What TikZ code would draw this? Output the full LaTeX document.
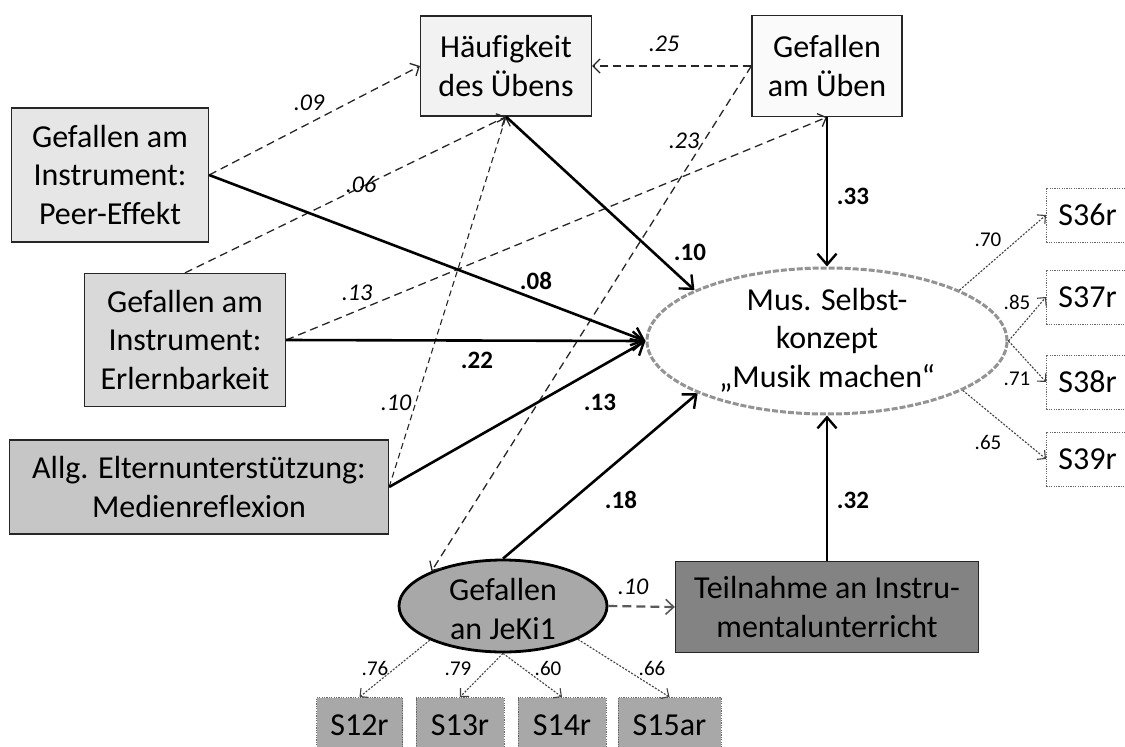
\documentclass[tikz,border=0pt]{standalone}
\usepackage{fontspec}
\setmainfont{Carlito}[Ligatures=NoCommon]
\usetikzlibrary{arrows.meta,shapes.geometric}
\definecolor{cHauf}{HTML}{F2F2F2}
\definecolor{cGub}{HTML}{FAFAFA}
\definecolor{cPeer}{HTML}{E6E6E6}
\definecolor{cErl}{HTML}{D9D9D9}
\definecolor{cElt}{HTML}{C6C6C6}
\definecolor{cJek}{HTML}{A8A8A8}
\definecolor{cTeil}{HTML}{838383}
\begin{document}
\begin{tikzpicture}[x=1pt,y=-1pt,
  box/.style={draw=black!85, line width=1.3pt, rectangle, inner sep=0pt, align=center, font=\fontsize{32}{38.5}\selectfont},
  indbox/.style={draw=black!60, line width=0.9pt, dash pattern=on 1.2pt off 1.2pt, rectangle, inner sep=0pt, font=\fontsize{32}{38.5}\selectfont},
  txt/.style={inner sep=0pt, align=center, font=\fontsize{32}{38.5}\selectfont},
  sarr/.style={black, line width=2.6pt, -{Straight Barb[length=11pt,width=19pt,line width=2.4pt]}},
  darr/.style={black!85, line width=1.3pt, dash pattern=on 8pt off 5pt, -{Straight Barb[length=7pt,width=14pt,line width=1.3pt]}},
  iarr/.style={black!75, line width=1.1pt, dash pattern=on 2pt off 1.5pt, -{Straight Barb[length=6pt,width=12pt,line width=1.1pt]}},
  blab/.style={font=\fontsize{25}{28}\selectfont\bfseries, inner sep=0pt},
  ilab/.style={font=\fontsize{24}{27}\selectfont\itshape, inner sep=0pt},
  slab/.style={font=\fontsize{21}{24}\selectfont, inner sep=0pt},
]
\useasboundingbox (0,0) rectangle (1125,747);

% boxes
\node[box, fill=cHauf, minimum width=171pt, minimum height=100pt] (hauf) at (506,66) {Häufigkeit\\des Übens};
\node[box, fill=cGub, minimum width=150pt, minimum height=101pt] (gub) at (827,66) {Gefallen\\am Üben};
\node[box, fill=cPeer, minimum width=197pt, minimum height=134pt] (peer) at (110,175) {Gefallen am\\Instrument:\\Peer-Effekt};
\node[box, fill=cErl, minimum width=201pt, minimum height=133pt] (erl) at (185,340) {Gefallen am\\Instrument:\\Erlernbarkeit};
\node[box, fill=cElt, minimum width=379pt, minimum height=94pt] (elt) at (199,487) {Allg. Elternunterstützung:\\Medienreflexion};
\node[box, fill=cTeil, minimum width=303pt, minimum height=91pt] (teil) at (827,607) {Teilnahme an Instru-\\mentalunterricht};

% latent variables
\node[ellipse, draw=gray!85, line width=3pt, dash pattern=on 6pt off 2pt, fill=white, minimum width=360pt, minimum height=146pt, inner sep=0pt] (msk) at (827,341) {};
\node[txt] (msktext) at (827,340) {Mus. Selbst-\\konzept\\„Musik machen“};
\node[ellipse, draw=black, line width=2.8pt, fill=cJek, minimum width=208pt, minimum height=92pt, inner sep=0pt] (jeki) at (503,606) {};
\node[txt] (jekitext) at (503,609) {Gefallen\\an JeKi1};

% indicators
\node[indbox, fill=white, anchor=west, minimum width=94pt, minimum height=54pt, text width=70pt, align=left, inner xsep=12pt] (s36) at (1046,215) {S36r};
\node[indbox, fill=white, anchor=west, minimum width=94pt, minimum height=54pt, text width=70pt, align=left, inner xsep=12pt] (s37) at (1046,297) {S37r};
\node[indbox, fill=white, anchor=west, minimum width=94pt, minimum height=54pt, text width=70pt, align=left, inner xsep=12pt] (s38) at (1046,382) {S38r};
\node[indbox, fill=white, anchor=west, minimum width=94pt, minimum height=54pt, text width=70pt, align=left, inner xsep=12pt] (s39) at (1046,459) {S39r};

\node[indbox, fill=cJek, minimum width=86pt, minimum height=55pt] (s12) at (359.5,725) {S12r};
\node[indbox, fill=cJek, minimum width=88pt, minimum height=55pt] (s13) at (460,725) {S13r};
\node[indbox, fill=cJek, minimum width=88pt, minimum height=55pt] (s14) at (562,725) {S14r};
\node[indbox, fill=cJek, minimum width=103pt, minimum height=55pt] (s15) at (669.5,725) {S15ar};

% dashed paths
\draw[darr] (peer.east) -- (hauf.west);
\draw[darr] (erl.north) -- (hauf.south);
\draw[darr] (erl.east) -- (gub.south);
\draw[darr] (gub.west) -- (hauf.east);
\draw[darr] (gub.west) -- (jeki.154);
\draw[darr, dash pattern=on 6pt off 4pt, line width=1.1pt] (elt.east) -- (hauf.south);
\draw[darr, draw=gray!70!black, line width=2.2pt, dash pattern=on 9pt off 5pt, -{Straight Barb[length=8pt,width=15pt,line width=1.6pt]}] (jeki.east) -- (teil.west);

% solid paths
\draw[sarr] (hauf.south) -- (msk.159);
\draw[sarr] (gub.south) -- (msk.north);
\draw[sarr] (peer.east) -- (msk.west);
\draw[sarr] (erl.east) -- (msk.west);
\draw[sarr] (elt.east) -- (msk.west);
\draw[sarr] (jeki.north) -- (msk.202);
\draw[sarr] (teil.north) -- (msk.south);

% indicator paths
\draw[iarr] (msk.21.7) -- (s36.west);
\draw[iarr] (msk.east) -- (s37.west);
\draw[iarr] (msk.east) -- (s38.west);
\draw[iarr] (msk.340) -- (s39.west);
\draw[iarr] (jeki.205) -- (s12.north);
\draw[iarr] (jeki.south) -- (s13.north);
\draw[iarr] (jeki.south) -- (s14.north);
\draw[iarr] (jeki.336) -- (s15.north);

% labels
\node[ilab] (l09) at (309,103) {.09};
\node[ilab] (l06) at (361,184) {.06};
\node[ilab] (l13i) at (357,293) {.13};
\node[ilab] (l10i) at (396,403) {.10};
\node[ilab] (l25) at (664,44) {.25};
\node[ilab] (l23) at (684,141) {.23};
\node[ilab] (l10j) at (633,587) {.10};

\node[blab] (b10) at (690,252) {.10};
\node[blab] (b33) at (853,196) {.33};
\node[blab] (b08) at (536,281) {.08};
\node[blab] (b22) at (477,360) {.22};
\node[blab] (b13) at (600,402) {.13};
\node[blab] (b18) at (621,500) {.18};
\node[blab] (b32) at (853,500) {.32};

\node[slab] (s70) at (988,240) {.70};
\node[slab] (s85) at (1017,302) {.85};
\node[slab] (s71) at (1017,379) {.71};
\node[slab] (s65) at (988,442) {.65};
\node[slab] (s76) at (375,668) {.76};
\node[slab] (s79) at (458,669) {.79};
\node[slab] (s60) at (548,668) {.60};
\node[slab] (s66) at (652,668) {.66};
\end{tikzpicture}
\end{document}
